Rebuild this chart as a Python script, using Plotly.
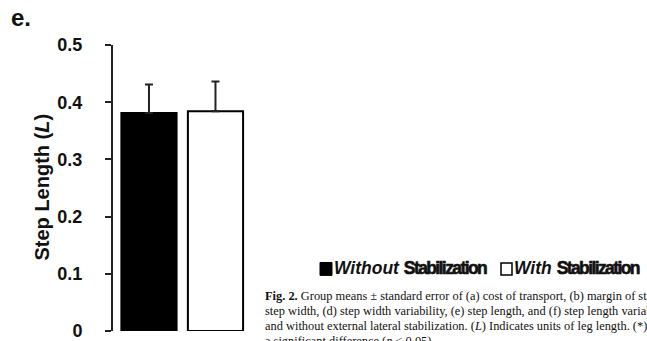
import plotly.graph_objects as go

# ---- data ----
groups = ["Without Stabilization", "With Stabilization"]
step_length_mean = [0.381, 0.384]
step_length_se = [0.050, 0.052]
bar_colors = ["black", "white"]
y_tickvals = [0, 0.1, 0.2, 0.3, 0.4, 0.5]
y_ticktext = ["0", "0.1", "0.2", "0.3", "0.4", "0.5"]

W, H = 647, 341
L, R, T, B = 113, 0, 45, 8
PW, PH = W - L - R, H - T - B


def px(x):
    return (x - L) / PW


def py(y):
    return (H - B - y) / PH


fig = go.Figure()
fig.add_trace(go.Bar(
    x=groups,
    y=step_length_mean,
    width=0.83,
    marker=dict(color=bar_colors, line=dict(color="black", width=2)),
    error_y=dict(type="data", symmetric=False, array=step_length_se,
                 arrayminus=[0, 0], color="#222", thickness=2, width=4),
    showlegend=False,
))

BOLD = "Liberation Sans, Arial, sans-serif"
SERIF = "Liberation Serif, Times New Roman, serif"
COND = ("<span style=\"letter-spacing:-1.6px;stroke:#111;stroke-width:0.6px\">"
        "<b>Stabilization</b></span>")

annotations = [
    dict(text="<b>e.</b>", x=px(21), y=py(17), font=dict(family=BOLD, size=24, color="#111")),
    dict(text="<b>Step Length (<i>L</i>)</b>", x=px(42.5), y=py(188), textangle=-90,
         font=dict(family=BOLD, size=20, color="#111")),
    dict(text="<b><i>Without</i></b> " + COND,
         x=px(332), y=py(270), xanchor="left",
         font=dict(family=BOLD, size=17.5, color="#111", weight="bold")),
    dict(text="<b><i>With</i></b> " + COND,
         x=px(512), y=py(270), xanchor="left",
         font=dict(family=BOLD, size=17.5, color="#111", weight="bold")),
]
caption = [
    "<b>Fig. 2.</b> Group means \u00b1 standard error of (a) cost of transport, (b) margin of stability, (c)",
    "step width, (d) step width variability, (e) step length, and (f) step length variability with",
    "and without external lateral stabilization. (<i>L</i>) Indicates units of leg length. (*) Indicates",
    "a significant difference (<i>p</i> &lt; 0.05).",
]
for i, line in enumerate(caption):
    annotations.append(dict(text=line, x=px(263), y=py(298 + 15 * i), xanchor="left",
                            font=dict(family=SERIF, size=12.4, color="#111")))
for a in annotations:
    a.setdefault("xanchor", "center")
    a.update(xref="paper", yref="paper", showarrow=False, yanchor="middle")

shapes = [
    dict(type="rect", xref="paper", yref="paper", x0=px(320), x1=px(332), y0=py(277), y1=py(264),
         fillcolor="black", line=dict(color="black", width=1)),
    dict(type="rect", xref="paper", yref="paper", x0=px(501), x1=px(512), y0=py(276.5), y1=py(264.5),
         fillcolor="white", line=dict(color="black", width=1.5)),
]

fig.update_layout(
    width=W, height=H,
    margin=dict(l=L, r=R, t=T, b=B, pad=0),
    paper_bgcolor="white", plot_bgcolor="white",
    annotations=annotations, shapes=shapes,
    xaxis=dict(range=[-0.541, 7.489], showline=False, showticklabels=False, ticks="",
               showgrid=False, zeroline=False),
    yaxis=dict(range=[0, 0.5], tickvals=y_tickvals, ticktext=y_ticktext,
               ticks="outside", ticklen=6, tickwidth=2, tickcolor="#222",
               showline=True, linewidth=2, linecolor="#222",
               showgrid=False, zeroline=False, ticklabelstandoff=19,
               ticklabeloverflow="allow",
               tickfont=dict(family=BOLD, size=18, color="#111", weight="bold")),
    bargap=0.1,
)

fig.write_html("out.html", config={"displayModeBar": False},
               post_script="document.body.style.margin='0';document.body.style.overflow='hidden';")
